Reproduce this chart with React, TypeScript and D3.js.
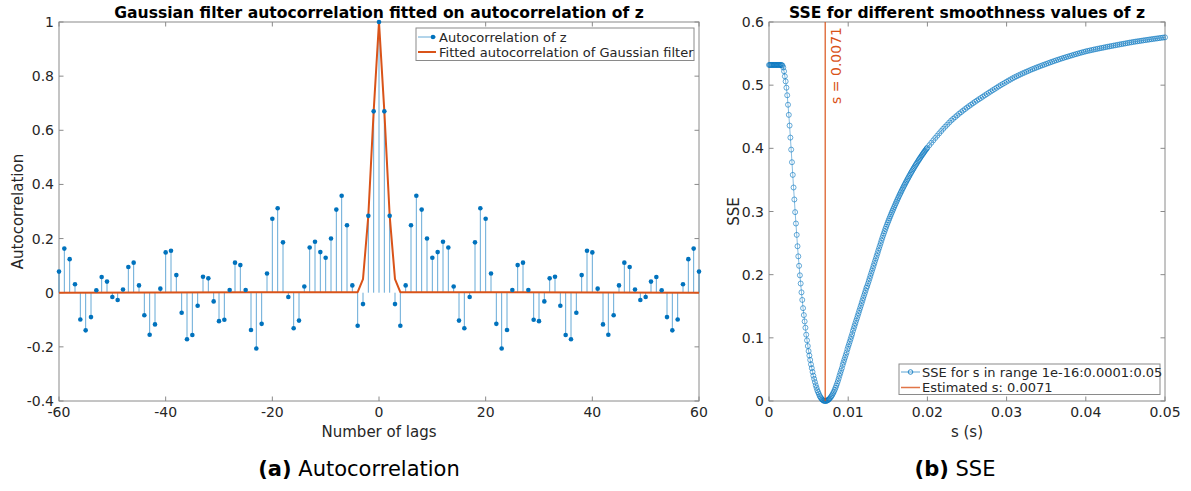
import React from "react";
import * as d3 from "d3";

// ---------- Left panel data ----------
const lags: number[] = d3.range(-60, 61);
const autocorr: number[] = [
  0.078, 0.163, 0.124, 0.031, -0.099, -0.139, -0.090, 0.009, 0.058, 0.041,
  -0.016, -0.027, 0.012, 0.095, 0.111, 0.027, -0.083, -0.155, -0.117, 0.015,
  0.149, 0.155, 0.065, -0.074, -0.172, -0.156, -0.048, 0.059, 0.053, -0.032,
  -0.105, -0.100, 0.010, 0.111, 0.102, 0.010, -0.138, -0.206, -0.115, 0.071,
  0.273, 0.312, 0.186, -0.016, -0.131, -0.103, 0.023, 0.167, 0.188, 0.150,
  0.129, 0.200, 0.307, 0.358, 0.249, 0.027, -0.122, -0.042, 0.284, 0.670,
  1.0,
  0.670, 0.284, -0.042, -0.122, 0.027, 0.249, 0.358, 0.307, 0.200, 0.129,
  0.150, 0.188, 0.167, 0.023, -0.103, -0.131, -0.016, 0.186, 0.312, 0.273,
  0.071, -0.115, -0.206, -0.138, 0.010, 0.102, 0.111, 0.010, -0.100, -0.105,
  -0.032, 0.053, 0.059, -0.048, -0.156, -0.172, -0.074, 0.065, 0.155, 0.149,
  0.015, -0.117, -0.155, -0.083, 0.027, 0.111, 0.095, 0.012, -0.027, -0.016,
  0.041, 0.058, 0.009, -0.090, -0.139, -0.099, 0.031, 0.124, 0.163, 0.078,
];
const fittedLags: number[] = [-60, -4, -3, -2, -1, 0, 1, 2, 3, 4, 60];
const fittedValues: number[] = [0, 0.002, 0.05, 0.285, 0.67, 1, 0.67, 0.285, 0.05, 0.002, 0];
const leftXTicks: number[] = [-60, -40, -20, 0, 20, 40, 60];
const leftYTicks: number[] = [-0.4, -0.2, 0, 0.2, 0.4, 0.6, 0.8, 1];

// ---------- Right panel data ----------
// SSE at s = 0, 0.0001, ..., 0.0200
const sseFine: number[] = [
  0.532, 0.532, 0.532, 0.532, 0.532, 0.532, 0.532, 0.532, 0.532, 0.532,
  0.532, 0.532, 0.532, 0.532, 0.532, 0.532, 0.532,
  0.531, 0.528, 0.522, 0.514, 0.506, 0.496, 0.484, 0.469, 0.453, 0.436, 0.417, 0.398, 0.378, 0.358,
  0.338, 0.319, 0.299, 0.281, 0.263, 0.245, 0.229, 0.214, 0.199, 0.186, 0.172, 0.160, 0.147, 0.136,
  0.126, 0.116, 0.105, 0.096, 0.087, 0.079,
  0.072, 0.065, 0.058, 0.052, 0.046, 0.040, 0.035, 0.030, 0.025, 0.021, 0.017, 0.014, 0.011, 0.008,
  0.006, 0.004, 0.0025, 0.0013, 0.0005, 0.0001, 0.0,
  0.0001, 0.0005, 0.0011, 0.002, 0.0031, 0.0044, 0.0061, 0.0079, 0.010, 0.0124, 0.0149, 0.0178,
  0.0209, 0.0242, 0.0278, 0.0316, 0.0357,
  0.040, 0.044, 0.048, 0.052, 0.057, 0.061, 0.065, 0.069, 0.073, 0.077, 0.082, 0.086,
  0.090, 0.094, 0.098, 0.102, 0.106, 0.111, 0.115, 0.119, 0.123, 0.127, 0.131, 0.135, 0.139, 0.143,
  0.147, 0.151, 0.155, 0.159, 0.163, 0.167, 0.171, 0.175, 0.179, 0.182, 0.186, 0.190, 0.194, 0.198,
  0.202, 0.206, 0.210, 0.214, 0.218, 0.222, 0.226, 0.230, 0.234, 0.238, 0.242, 0.246, 0.250, 0.254,
  0.2579, 0.2617, 0.2654, 0.2690, 0.2725, 0.2759, 0.2793, 0.2826, 0.2858, 0.2890, 0.2921, 0.2952,
  0.2982, 0.3012, 0.3041, 0.3070, 0.3099,
  0.3128, 0.3156, 0.3184, 0.3212, 0.3239, 0.3266, 0.3292, 0.3318, 0.3344, 0.3369, 0.3394, 0.3419,
  0.3443, 0.3467, 0.3491, 0.3514, 0.3537,
  0.3560, 0.3583, 0.3605, 0.3627, 0.3649, 0.3670, 0.3691, 0.3712, 0.3733, 0.3753, 0.3773, 0.3793,
  0.3813, 0.3832, 0.3851, 0.3870, 0.3889, 0.3907, 0.3925, 0.3943, 0.3961, 0.3978, 0.3995, 0.4012,
];
// SSE at s = 0.02025, 0.0205, ..., 0.05
const sseCoarse: number[] = [
  0.4050, 0.4089, 0.4127, 0.4165, 0.4201, 0.4238, 0.4274, 0.4310, 0.4343, 0.4375, 0.4408, 0.4440,
  0.4467, 0.4494, 0.4521, 0.4548, 0.4572, 0.4597, 0.4621, 0.4645, 0.4668, 0.4690, 0.4713, 0.4735,
  0.4756, 0.4777, 0.4797, 0.4818, 0.4839, 0.4859, 0.4880, 0.4900, 0.4920, 0.4940, 0.4960, 0.4980,
  0.4999, 0.5018, 0.5036, 0.5055, 0.5073, 0.5090, 0.5108, 0.5125, 0.5140, 0.5155, 0.5170, 0.5185,
  0.5199, 0.5213, 0.5226, 0.5240, 0.5253, 0.5265, 0.5278, 0.5290, 0.5302, 0.5314, 0.5325, 0.5337,
  0.5348, 0.5360, 0.5371, 0.5382, 0.5393, 0.5403, 0.5414, 0.5424, 0.5434, 0.5444, 0.5453, 0.5463,
  0.5472, 0.5482, 0.5491, 0.5500, 0.5509, 0.5518, 0.5526, 0.5535, 0.5542, 0.5549, 0.5556, 0.5563,
  0.5570, 0.5576, 0.5583, 0.5589, 0.5595, 0.5602, 0.5608, 0.5614, 0.5620, 0.5626, 0.5632, 0.5638,
  0.5644, 0.5650, 0.5655, 0.5661, 0.5667, 0.5673, 0.5678, 0.5684, 0.5689, 0.5694, 0.5698, 0.5703,
  0.5708, 0.5713, 0.5717, 0.5722, 0.5727, 0.5731, 0.5736, 0.5740, 0.5744, 0.5749, 0.5753, 0.5757,
];
const estimatedS = 0.0071;
const rightXTicks: number[] = [0, 0.01, 0.02, 0.03, 0.04, 0.05];
const rightYTicks: number[] = [0, 0.1, 0.2, 0.3, 0.4, 0.5, 0.6];

const FONT = "'DejaVu Sans', sans-serif";
const BLUE = "#0072BD";
const ORANGE = "#D95319";
const AXIS = "#8a8a8a";
const TXT = "#262626";

const fmt = (v: number) => String(+v.toFixed(3));

function Axes({ x, y, xTicks, yTicks }: any) {
  const [x0, x1] = x.range();
  const [y0, y1] = y.range();
  const tl = 4.5;
  return (
    <g>
      <rect x={x0} y={y1} width={x1 - x0} height={y0 - y1} fill="none" stroke={AXIS} strokeWidth={1} />
      {xTicks.map((t: number) => (
        <g key={"xt" + t}>
          <line x1={x(t)} x2={x(t)} y1={y0} y2={y0 - tl} stroke={AXIS} />
          <line x1={x(t)} x2={x(t)} y1={y1} y2={y1 + tl} stroke={AXIS} />
          <text x={x(t)} y={y0 + 16} textAnchor="middle" fontSize={14} fill={TXT} fontFamily={FONT}>
            {fmt(t)}
          </text>
        </g>
      ))}
      {yTicks.map((t: number) => (
        <g key={"yt" + t}>
          <line x1={x0} x2={x0 + tl} y1={y(t)} y2={y(t)} stroke={AXIS} />
          <line x1={x1} x2={x1 - tl} y1={y(t)} y2={y(t)} stroke={AXIS} />
          <text x={x0 - 5} y={y(t)} dy="0.36em" textAnchor="end" fontSize={14} fill={TXT} fontFamily={FONT}>
            {fmt(t)}
          </text>
        </g>
      ))}
    </g>
  );
}

export default function App() {
  const xL = d3.scaleLinear().domain([-60, 60]).range([59, 699]);
  const yL = d3.scaleLinear().domain([-0.4, 1]).range([401, 22]);
  const xR = d3.scaleLinear().domain([0, 0.05]).range([769, 1165]);
  const yR = d3.scaleLinear().domain([0, 0.6]).range([401, 22]);

  const fittedLine = d3
    .line<number>()
    .x((_, i) => xL(fittedLags[i]))
    .y((d) => yL(d))(fittedValues);

  const ssePts: [number, number][] = [
    ...sseFine.map((v, i) => [i * 0.0001, v] as [number, number]),
    ...sseCoarse.map((v, j) => [0.02 + (j + 1) * 0.00025, v] as [number, number]),
  ];
  const sseLine = d3
    .line<[number, number]>()
    .x((d) => xR(d[0]))
    .y((d) => yR(d[1]))(ssePts);

  return (
    <svg
      width={1191}
      height={491}
      style={{ position: "absolute", left: 0, top: 0, background: "#fff" }}
      fontFamily={FONT}
    >
      <rect x={0} y={0} width={1191} height={491} fill="#fff" />

      {/* ---------- Left panel ---------- */}
      <Axes x={xL} y={yL} xTicks={leftXTicks} yTicks={leftYTicks} />
      <g>
        {lags.map((l, i) => (
          <line
            key={"st" + l}
            x1={xL(l)}
            x2={xL(l)}
            y1={yL(0)}
            y2={yL(autocorr[i])}
            stroke={BLUE}
            strokeOpacity={0.6}
            strokeWidth={1}
          />
        ))}
        <path d={fittedLine || ""} fill="none" stroke={ORANGE} strokeWidth={2} strokeLinejoin="round" />
        {lags.map((l, i) => (
          <circle key={"dt" + l} cx={xL(l)} cy={yL(autocorr[i])} r={2.3} fill={BLUE} />
        ))}
      </g>
      <text x={379} y={18} textAnchor="middle" fontSize={15.6} fontWeight="bold" fill="#000">
        Gaussian filter autocorrelation fitted on autocorrelation of z
      </text>
      <text x={379} y={437} textAnchor="middle" fontSize={15} fill={TXT}>
        Number of lags
      </text>
      <text transform="translate(23,211.5) rotate(-90)" textAnchor="middle" fontSize={15} fill={TXT}>
        Autocorrelation
      </text>
      <g>
        <rect x={416} y={28} width={278} height={32.5} fill="#fff" stroke={AXIS} strokeWidth={1} />
        <line x1={418} x2={436} y1={37} y2={37} stroke={BLUE} strokeOpacity={0.6} strokeWidth={1} />
        <circle cx={433} cy={37} r={2.3} fill={BLUE} />
        <text x={439} y={41.7} fontSize={13} fill={TXT}>
          Autocorrelation of z
        </text>
        <line x1={418} x2={436} y1={52} y2={52} stroke={ORANGE} strokeWidth={2} />
        <text x={439} y={56.7} fontSize={13} fill={TXT}>
          Fitted autocorrelation of Gaussian filter
        </text>
      </g>
      <text x={359} y={476} textAnchor="middle" fontSize={21} fill="#000">
        <tspan fontWeight="bold">(a)</tspan>
        <tspan> Autocorrelation</tspan>
      </text>

      {/* ---------- Right panel ---------- */}
      <Axes x={xR} y={yR} xTicks={rightXTicks} yTicks={rightYTicks} />
      <path d={sseLine || ""} fill="none" stroke={BLUE} strokeWidth={0.6} strokeOpacity={0.8} />
      {ssePts.map((d, i) => (
        <circle
          key={"sp" + i}
          cx={xR(d[0])}
          cy={yR(d[1])}
          r={2.5}
          fill="none"
          stroke={BLUE}
          strokeWidth={0.8}
          strokeOpacity={0.75}
        />
      ))}
      <line
        x1={xR(estimatedS)}
        x2={xR(estimatedS)}
        y1={yR(0)}
        y2={yR(0.6)}
        stroke={ORANGE}
        strokeWidth={1.5}
        strokeOpacity={0.8}
      />
      <text
        transform={`translate(${xR(estimatedS) + 16},27) rotate(-90)`}
        textAnchor="end"
        fontSize={14}
        fill={ORANGE}
      >
        s = 0.0071
      </text>
      <text x={967} y={18} textAnchor="middle" fontSize={15.6} fontWeight="bold" fill="#000">
        SSE for different smoothness values of z
      </text>
      <text x={967} y={437} textAnchor="middle" fontSize={15} fill={TXT}>
        s (s)
      </text>
      <text transform="translate(739,211.5) rotate(-90)" textAnchor="middle" fontSize={15} fill={TXT}>
        SSE
      </text>
      <g>
        <rect x={899} y={364} width={261} height={30.5} fill="#fff" stroke={AXIS} strokeWidth={1} />
        <line x1={901} x2={920} y1={372} y2={372} stroke={BLUE} strokeWidth={0.8} strokeOpacity={0.8} />
        <circle cx={910.5} cy={372} r={2.3} fill="none" stroke={BLUE} strokeWidth={0.8} />
        <text x={922} y={376.7} fontSize={13} fill={TXT}>
          SSE for s in range 1e-16:0.0001:0.05
        </text>
        <line x1={901} x2={920} y1={387.5} y2={387.5} stroke={ORANGE} strokeWidth={1.5} strokeOpacity={0.8} />
        <text x={922} y={392.2} fontSize={13} fill={TXT}>
          Estimated s: 0.0071
        </text>
      </g>
      <text x={955} y={476} textAnchor="middle" fontSize={21} fill="#000">
        <tspan fontWeight="bold">(b)</tspan>
        <tspan> SSE</tspan>
      </text>
    </svg>
  );
}
